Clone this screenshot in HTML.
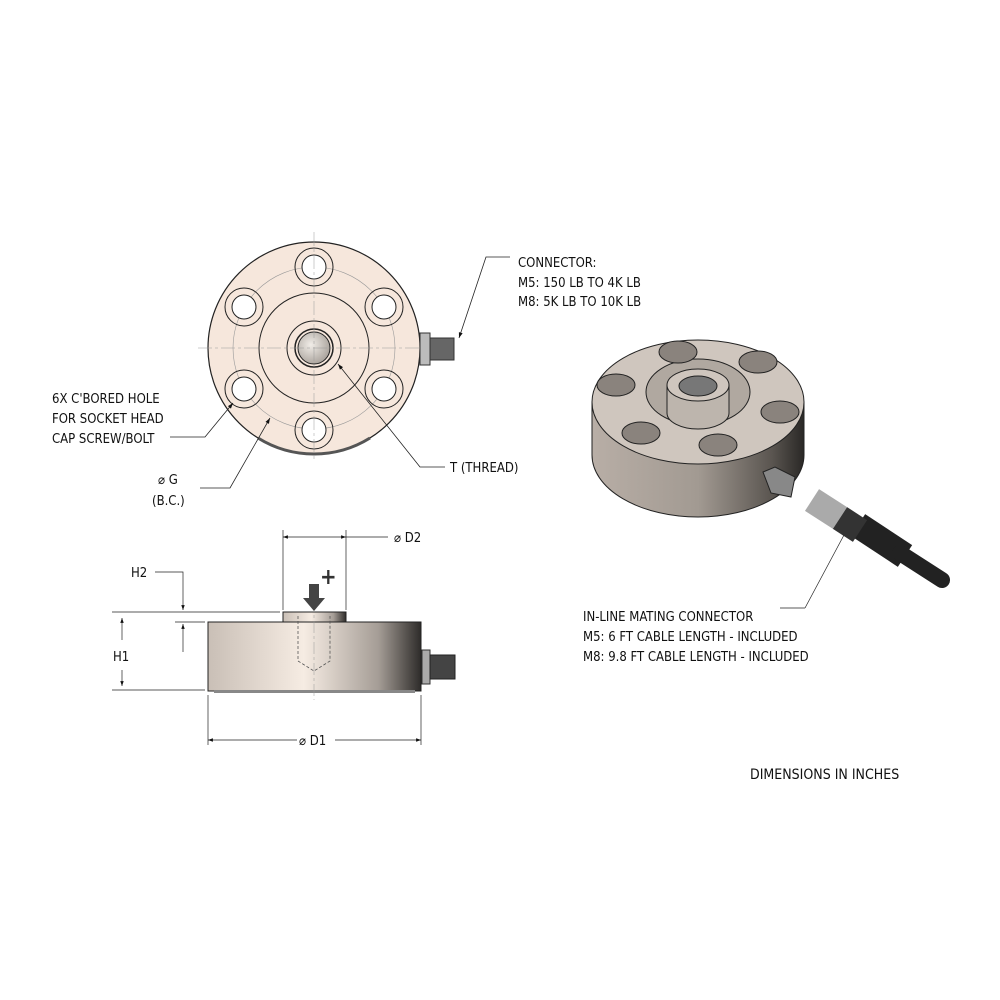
<!DOCTYPE html>
<html><head><style>
body{margin:0;background:#fff}
svg{display:block}
text{font-family:"DejaVu Sans Condensed","Liberation Sans",sans-serif;font-size:13px;fill:#111}
</style></head><body>
<svg width="1000" height="1000" viewBox="0 0 1000 1000" xmlns="http://www.w3.org/2000/svg">
<defs>
<linearGradient id="side" x1="0" x2="1">
<stop offset="0" stop-color="#c9bfb6"/><stop offset="0.45" stop-color="#f6ece3"/><stop offset="0.8" stop-color="#a59d96"/><stop offset="1" stop-color="#2e2c2a"/>
</linearGradient>
<linearGradient id="iso" x1="0" x2="1">
<stop offset="0" stop-color="#b8aea6"/><stop offset="0.5" stop-color="#a29a92"/><stop offset="0.85" stop-color="#5a5550"/><stop offset="1" stop-color="#2a2826"/>
</linearGradient>
<radialGradient id="hub" cx="0.4" cy="0.4" r="0.7"><stop offset="0" stop-color="#f1ede8"/><stop offset="1" stop-color="#a29b94"/></radialGradient>
<marker id="ar" viewBox="0 0 10 10" refX="10" refY="5" markerWidth="10" markerHeight="7" orient="auto-start-reverse"><path d="M0,1.5 L10,5 L0,8.5z" fill="#111"/></marker>
</defs>

<!-- TOP VIEW -->
<g stroke="#222" fill="none">
<circle cx="314" cy="348" r="106" fill="#f6e7dc" stroke-width="1.2"/>
<path d="M258,438 A106,106 0 0 0 370,438" stroke="#555" stroke-width="3"/>
<circle cx="314" cy="348" r="81" stroke="#999" stroke-width="0.6"/>
<circle cx="314" cy="348" r="55"/>
<circle cx="314" cy="348" r="27"/>
<circle cx="314" cy="348" r="19" stroke-width="1.5"/>
<circle cx="314" cy="348" r="16" fill="url(#hub)"/>
<g stroke-width="1">
<circle cx="314" cy="267" r="19"/><circle cx="314" cy="267" r="12" fill="#fff"/>
<circle cx="244" cy="307" r="19"/><circle cx="244" cy="307" r="12" fill="#fff"/>
<circle cx="384" cy="307" r="19"/><circle cx="384" cy="307" r="12" fill="#fff"/>
<circle cx="244" cy="389" r="19"/><circle cx="244" cy="389" r="12" fill="#fff"/>
<circle cx="384" cy="389" r="19"/><circle cx="384" cy="389" r="12" fill="#fff"/>
<circle cx="314" cy="430" r="19"/><circle cx="314" cy="430" r="12" fill="#fff"/>
</g>
<g stroke="#999" stroke-width="0.5" stroke-dasharray="14,3,3,3">
<line x1="198" y1="348" x2="430" y2="348"/><line x1="314" y1="232" x2="314" y2="462"/>
</g>
</g>
<rect x="420" y="333" width="10" height="32" fill="#bbb" stroke="#333"/>
<rect x="430" y="338" width="24" height="22" fill="#666" stroke="#333"/>
<!-- leaders top -->
<g stroke="#222" fill="none" stroke-width="0.8">
<polyline points="510,257 486,257 459,338" marker-end="url(#ar)"/>
<polyline points="170,437 205,437 233,403" marker-end="url(#ar)"/>
<polyline points="200,488 230,488 270,418" marker-end="url(#ar)"/>
<polyline points="445,467 420,467 338,364" marker-end="url(#ar)"/>
</g>
<text x="518" y="267">CONNECTOR:</text>
<text x="518" y="287">M5: 150 LB TO 4K LB</text>
<text x="518" y="306">M8: 5K LB TO 10K LB</text>
<text x="52" y="403">6X C'BORED HOLE</text>
<text x="52" y="423">FOR SOCKET HEAD</text>
<text x="52" y="443">CAP SCREW/BOLT</text>
<text x="158" y="484">⌀ G</text>
<text x="152" y="505">(B.C.)</text>
<text x="450" y="472">T (THREAD)</text>

<!-- SIDE VIEW -->
<rect x="208" y="622" width="213" height="69" fill="url(#side)" stroke="#222"/>
<rect x="214" y="690" width="201" height="3" fill="#888"/>
<rect x="283" y="612" width="63" height="10" fill="url(#side)" stroke="#222"/>
<g stroke="#555" fill="none" stroke-dasharray="3,2" stroke-width="0.8">
<polyline points="298,616 298,661 314,671 330,661 330,616"/>
</g>
<line x1="314" y1="600" x2="314" y2="700" stroke="#999" stroke-width="0.5" stroke-dasharray="12,3,3,3"/>
<rect x="422" y="650" width="8" height="34" fill="#aaa" stroke="#333"/>
<rect x="430" y="655" width="25" height="24" fill="#444" stroke="#222"/>
<path d="M309,584 h10 v14 h6 l-11,13 l-11,-13 h6z" fill="#444"/>
<text x="320" y="584" style="font-size:22px;font-weight:bold;fill:#333">+</text>
<g stroke="#222" stroke-width="0.7" fill="none">
<line x1="283" y1="530" x2="283" y2="610"/><line x1="346" y1="530" x2="346" y2="610"/>
<line x1="283" y1="537" x2="346" y2="537" marker-start="url(#ar)" marker-end="url(#ar)"/>
<line x1="346" y1="537" x2="388" y2="537"/>
<line x1="208" y1="695" x2="208" y2="745"/><line x1="421" y1="695" x2="421" y2="745"/>
<line x1="208" y1="740" x2="297" y2="740" marker-start="url(#ar)"/>
<line x1="335" y1="740" x2="421" y2="740" marker-end="url(#ar)"/>
<line x1="112" y1="612" x2="280" y2="612"/>
<line x1="112" y1="690" x2="205" y2="690"/>
<line x1="175" y1="622" x2="205" y2="622"/>
<line x1="122" y1="618" x2="122" y2="640" marker-start="url(#ar)"/>
<line x1="122" y1="670" x2="122" y2="686" marker-end="url(#ar)"/>
<polyline points="155,572 183,572 183,610" marker-end="url(#ar)"/>
<line x1="183" y1="652" x2="183" y2="624" marker-end="url(#ar)"/>
</g>
<text x="394" y="542">⌀ D2</text>
<text x="299" y="745">⌀ D1</text>
<text x="131" y="577">H2</text>
<text x="113" y="661">H1</text>

<!-- ISO VIEW -->
<path d="M592,402 L592,455 A106,62 0 0 0 804,455 L804,402z" fill="url(#iso)" stroke="#222"/>
<ellipse cx="698" cy="402" rx="106" ry="62" fill="#cfc6be" stroke="#222"/>
<ellipse cx="698" cy="392" rx="52" ry="33" fill="#b0a8a0" stroke="#222"/>
<path d="M667,385 v28 a31,16 0 0 0 62,0 v-28" fill="#bdb5ad" stroke="#222"/>
<ellipse cx="698" cy="385" rx="31" ry="16" fill="#cfc6be" stroke="#222"/>
<ellipse cx="698" cy="386" rx="19" ry="10" fill="#777" stroke="#222"/>
<g fill="#8a837d" stroke="#222">
<ellipse cx="678" cy="352" rx="19" ry="11"/><ellipse cx="758" cy="362" rx="19" ry="11"/>
<ellipse cx="616" cy="385" rx="19" ry="11"/><ellipse cx="780" cy="412" rx="19" ry="11"/>
<ellipse cx="641" cy="433" rx="19" ry="11"/><ellipse cx="718" cy="445" rx="19" ry="11"/>
</g>
<path d="M763,472 l12,-5 l20,10 l-4,20 l-20,-4z" fill="#888" stroke="#222"/>
<line x1="858" y1="525" x2="905" y2="556" stroke="#222" stroke-width="26"/>
<line x1="900" y1="553" x2="942" y2="580" stroke="#222" stroke-width="16" stroke-linecap="round"/>
<line x1="812" y1="500" x2="840" y2="518" stroke="#aaa" stroke-width="26"/>
<line x1="840" y1="518" x2="860" y2="531" stroke="#333" stroke-width="26"/>
<line x1="844" y1="535" x2="805" y2="608" stroke="#222" stroke-width="0.7"/>
<line x1="805" y1="608" x2="780" y2="608" stroke="#222" stroke-width="0.7"/>
<text x="583" y="621">IN-LINE MATING CONNECTOR</text>
<text x="583" y="641">M5: 6 FT CABLE LENGTH - INCLUDED</text>
<text x="583" y="661">M8: 9.8 FT CABLE LENGTH - INCLUDED</text>
<text x="750" y="779" style="font-size:14px">DIMENSIONS IN INCHES</text>
</svg>
</body></html>
